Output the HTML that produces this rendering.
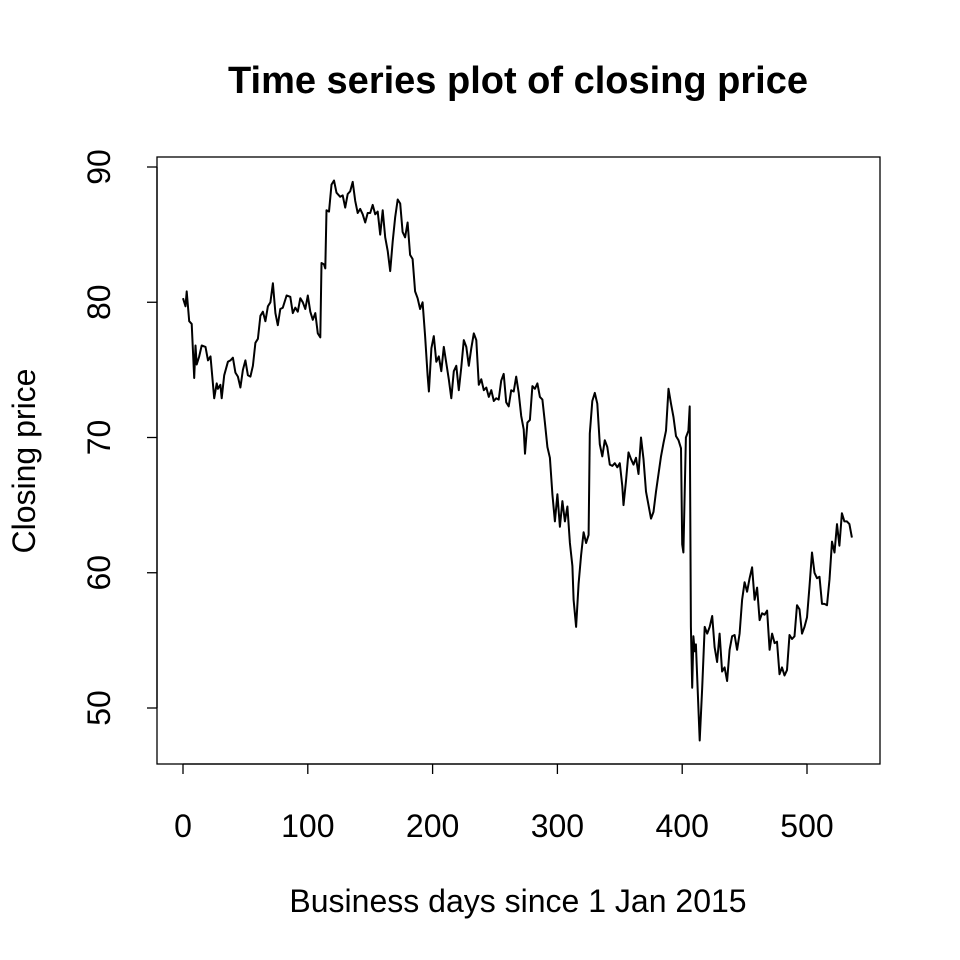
<!DOCTYPE html>
<html><head><meta charset="utf-8"><style>
html,body{margin:0;padding:0;background:#fff}
svg{display:block;font-family:"Liberation Sans",Arial,sans-serif}
</style></head><body>
<svg id="chart" width="960" height="960" viewBox="0 0 960 960" xmlns="http://www.w3.org/2000/svg">
<rect width="960" height="960" fill="#fff"/>
<text x="518" y="93" text-anchor="middle" font-size="38" font-weight="bold">Time series plot of closing price</text>
<rect x="157" y="157" width="723" height="607" fill="none" stroke="#000" stroke-width="1.3"/>
<g id="xaxis"></g>
<g id="yaxis"></g>
<text x="518" y="912" text-anchor="middle" font-size="32">Business days since 1 Jan 2015</text>
<text transform="translate(35,461) rotate(-90)" text-anchor="middle" font-size="32">Closing price</text>
<g id="series"></g>
</svg>
<script>
const days = [0,2,3,5,7,9,10,11,13,15,18,20,22,25,27,28,30,31,33,36,38,40,42,44,46,48,50,52,54,56,58,60,62,64,66,68,70,72,74,76,78,80,83,86,88,90,92,94,96,98,100,102,104,106,108,110,111,113,114,115,117,119,121,123,126,128,130,132,134,136,138,140,142,144,146,148,150,152,154,156,158,160,162,164,166,168,170,172,174,176,178,180,182,184,186,188,190,192,194,196,197,199,201,203,205,207,209,211,213,215,217,219,221,223,225,227,229,231,233,235,237,239,241,243,245,247,249,251,253,255,257,259,261,263,265,267,269,271,273,274,276,278,280,282,284,286,288,290,292,294,296,298,300,302,304,306,308,310,312,313,315,317,319,321,323,325,326,328,330,332,334,336,338,340,342,344,346,348,350,352,353,355,357,359,361,363,365,367,369,371,373,375,377,379,381,383,385,387,389,391,393,395,397,399,400,401,403,405,406,407,408,409,410,411,413,414,416,418,420,422,424,426,428,430,432,434,436,438,440,442,444,446,448,450,452,454,456,458,460,462,464,466,468,470,472,474,476,478,480,482,484,486,488,490,492,494,496,498,500,502,504,506,508,510,512,514,516,518,520,522,524,526,528,530,532,534,536];
const prices = [80.3,79.7,80.8,78.6,78.4,74.4,76.8,75.4,76.0,76.8,76.7,75.7,76.0,72.9,74.0,73.6,73.9,72.9,74.6,75.6,75.7,75.9,74.8,74.5,73.7,75.0,75.7,74.6,74.5,75.3,77.0,77.3,79.0,79.3,78.6,79.7,80.0,81.4,79.2,78.3,79.5,79.6,80.5,80.4,79.2,79.6,79.3,80.3,80.0,79.5,80.5,79.3,78.7,79.2,77.7,77.4,82.9,82.8,82.5,86.8,86.7,88.7,89.0,88.1,87.8,87.9,87.0,88.0,88.2,88.9,87.5,86.6,86.9,86.5,85.9,86.6,86.6,87.2,86.5,86.7,85.0,86.8,84.8,83.8,82.3,84.5,86.3,87.6,87.3,85.2,84.8,85.9,83.5,83.2,80.8,80.3,79.5,80.0,77.5,74.6,73.4,76.6,77.5,75.6,76.0,74.9,76.7,75.5,74.3,72.9,74.9,75.3,73.5,75.2,77.2,76.7,75.3,76.6,77.7,77.2,73.9,74.3,73.5,73.7,73.0,73.5,72.7,72.9,72.8,74.2,74.7,72.6,72.3,73.5,73.4,74.5,73.3,71.6,70.6,68.8,71.1,71.3,73.8,73.6,74.0,73.0,72.8,71.1,69.3,68.5,65.8,63.8,65.8,63.4,65.3,63.8,64.9,62.2,60.5,58.0,56.0,59.2,61.3,63.0,62.2,62.8,70.3,72.7,73.3,72.5,69.5,68.6,69.8,69.3,68.0,67.9,68.1,67.8,68.1,66.4,65.0,66.8,68.9,68.4,68.0,68.5,67.3,70.0,68.4,66.0,65.0,64.0,64.5,66.0,67.3,68.6,69.6,70.5,73.6,72.5,71.5,70.1,69.8,69.2,62.1,61.5,70.0,70.5,72.3,56.0,51.5,55.3,54.2,54.7,50.0,47.6,51.5,56.0,55.5,56.0,56.8,54.5,53.4,55.5,52.7,53.0,52.0,54.3,55.3,55.4,54.3,55.5,58.0,59.3,58.6,59.6,60.4,58.0,58.9,56.5,57.0,56.9,57.2,54.3,55.5,54.8,54.9,52.5,53.0,52.4,52.8,55.4,55.1,55.3,57.6,57.3,55.5,56.0,56.7,59.0,61.5,60.0,59.6,59.7,57.7,57.7,57.6,59.5,62.3,61.5,63.6,62.0,64.4,63.8,63.8,63.6,62.6];
const xTicks = [0,100,200,300,400,500];
const yTicks = [50,60,70,80,90];

const NS = "http://www.w3.org/2000/svg";
const xScale = d => 183 + (d - 0) * (807 - 183) / 500;
const yScale = v => 708 - (v - 50) * (708 - 167) / 40;
function mk(tag, attrs, parent){const e=document.createElementNS(NS,tag);for(const k in attrs)e.setAttribute(k,attrs[k]);parent.appendChild(e);return e;}

const xg = document.getElementById('xaxis');
const xl = mk('line',{x1:xScale(xTicks[0]),x2:xScale(xTicks[xTicks.length-1]),y1:764,y2:764,stroke:'#000','stroke-width':1.3},xg);


xTicks.forEach(t=>{
  const tk = mk('line',{x1:xScale(t),x2:xScale(t),y1:764,y2:774,stroke:'#000','stroke-width':1.3},xg);
  
  
  const lb = mk('text',{x:xScale(t),y:837,'text-anchor':'middle','font-size':32},xg);
  lb.textContent = t;
  
  
});
const yg = document.getElementById('yaxis');
const yl = mk('line',{x1:157,x2:157,y1:yScale(yTicks[0]),y2:yScale(yTicks[yTicks.length-1]),stroke:'#000','stroke-width':1.3},yg);


yTicks.forEach(t=>{
  const tk = mk('line',{x1:147,x2:157,y1:yScale(t),y2:yScale(t),stroke:'#000','stroke-width':1.3},yg);
  
  
  const lb = mk('text',{transform:`translate(110,${yScale(t)}) rotate(-90)`,'text-anchor':'middle','font-size':32},yg);
  lb.textContent = t;
  
  
});
const sg = document.getElementById('series');
const pts = days.map((d,i)=>xScale(d).toFixed(1)+','+yScale(prices[i]).toFixed(1)).join(' ');
const pl = mk('polyline',{points:pts,fill:'none',stroke:'#000','stroke-width':2,'stroke-linejoin':'round'},sg);


</script>
</body></html>
